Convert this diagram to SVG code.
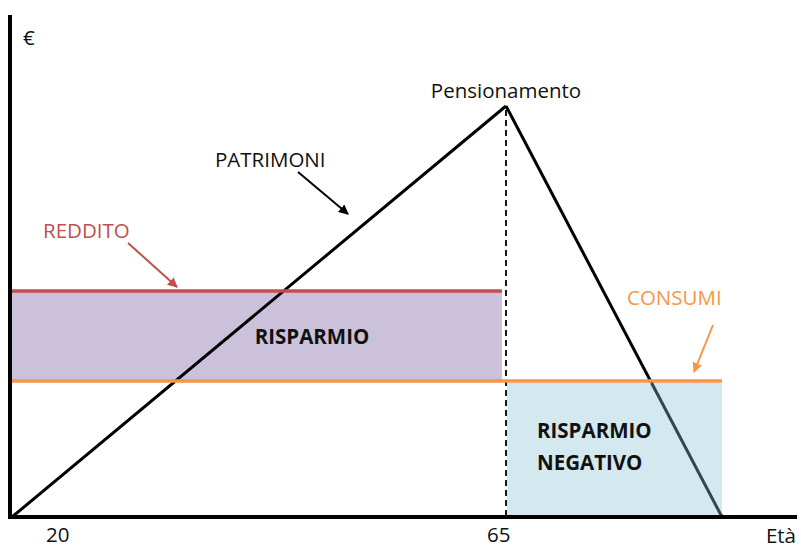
<svg xmlns="http://www.w3.org/2000/svg" width="801" height="550" viewBox="0 0 801 550">
<defs>
<style>
text{font-family:"Open Sans","Liberation Sans",Arial,sans-serif;font-size:20.5px;fill:#111}
.b{font-weight:bold}
.red{fill:#C0504D}
.org{fill:#F79646}
.ax{stroke:#000;stroke-width:4;fill:none}
.ln{stroke:#000;stroke-width:3;fill:none}
</style>
<marker id="ak" viewBox="0 0 10 10" refX="9" refY="5" markerWidth="5" markerHeight="5" orient="auto"><path d="M0,0L10,5L0,10z" fill="#000"/></marker>
<marker id="ar" viewBox="0 0 10 10" refX="9" refY="5" markerWidth="5" markerHeight="5" orient="auto"><path d="M0,0L10,5L0,10z" fill="#C0504D"/></marker>
<marker id="ao" viewBox="0 0 10 10" refX="9" refY="5" markerWidth="5" markerHeight="5" orient="auto"><path d="M0,0L10,5L0,10z" fill="#F79646"/></marker>
</defs>
<g id="risparmio">
<rect x="12" y="291" width="490" height="90" fill="#CCC1DA"/>
<text class="b" x="312" y="344" text-anchor="middle">RISPARMIO</text>
</g>
<g id="connectors">
<line class="ln" x1="12" y1="517" x2="506" y2="106"/>
<line class="ln" x1="506" y1="106" x2="722" y2="517"/>
<line x1="506" y1="110" x2="506" y2="517" stroke="#000" stroke-width="1.8" stroke-dasharray="6,4"/>
<line x1="12" y1="291" x2="502" y2="291" stroke="#C0504D" stroke-width="3.5"/>
<line x1="12" y1="381" x2="722" y2="381" stroke="#F79646" stroke-width="3.5"/>
<line x1="298" y1="172" x2="348" y2="214" stroke="#000" stroke-width="2" marker-end="url(#ak)"/>
<line x1="128" y1="243" x2="177" y2="287" stroke="#C0504D" stroke-width="2" marker-end="url(#ar)"/>
<line x1="713" y1="325" x2="694" y2="372" stroke="#F79646" stroke-width="2" marker-end="url(#ao)"/>
</g>
<g id="risparmio-negativo">
<rect x="507" y="383" width="215" height="133" fill="#D3E8EF"/>
<line x1="651.6" y1="383" x2="722" y2="517" stroke="#2F474D" stroke-width="3"/>
<text class="b" x="537" y="438">RISPARMIO</text>
<text class="b" x="537" y="470">NEGATIVO</text>
</g>
<g id="axes">
<line class="ax" x1="10" y1="15" x2="10" y2="519"/>
<line class="ax" x1="8" y1="517" x2="797" y2="517"/>
<text x="23" y="45">€</text>
<text x="46" y="542">20</text>
<text x="487" y="542">65</text>
<text x="796" y="543" text-anchor="end">Età</text>
</g>
<g id="pensionamento"><text x="506" y="98" text-anchor="middle">Pensionamento</text></g>
<g id="patrimoni"><text x="215" y="167">PATRIMONI</text></g>
<g id="reddito"><text class="red" x="43" y="238">REDDITO</text></g>
<g id="consumi"><text class="org" x="627" y="305">CONSUMI</text></g>
</svg>
